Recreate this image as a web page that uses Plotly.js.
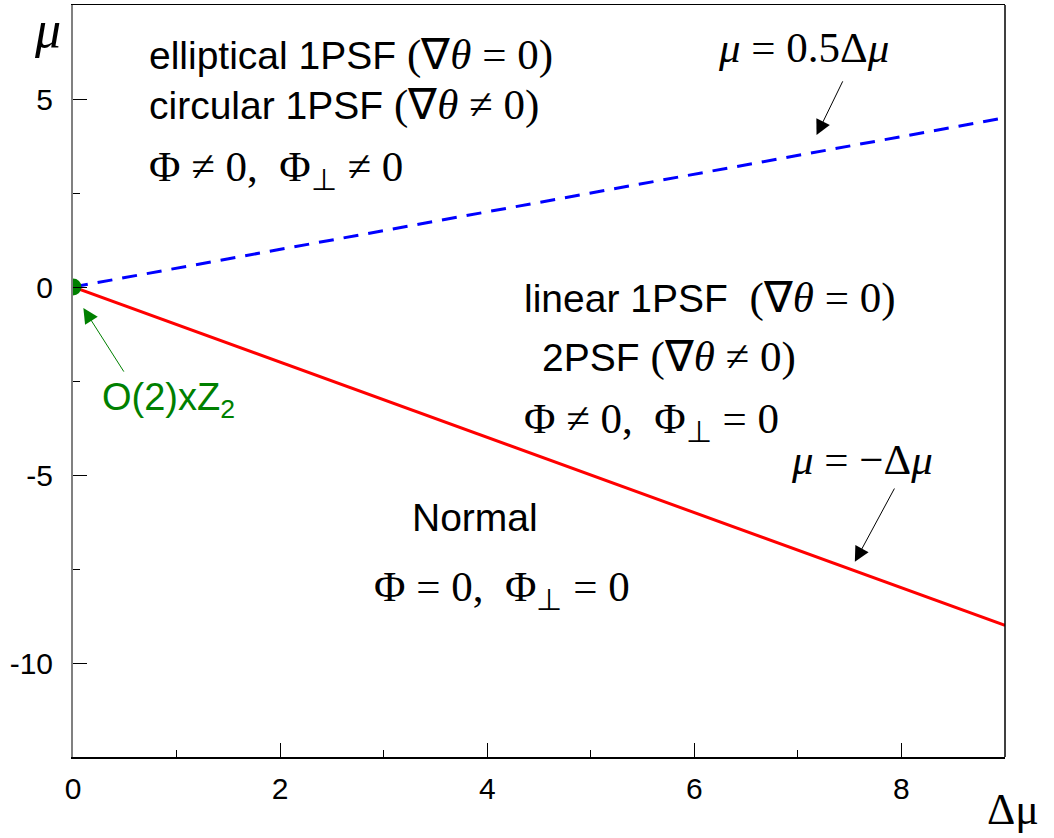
<!DOCTYPE html>
<html>
<head>
<meta charset="utf-8">
<script src="https://cdn.plot.ly/plotly-3.0.1.min.js"></script>
<style>
  html, body { margin: 0; padding: 0; background: #ffffff; }
  #chart { width: 1054px; height: 838px; }
</style>
</head>
<body>
<div id="chart"></div>
<script>
// Phase boundaries in the (Δμ, μ) plane
const deltaMu = [0, 9];
const muHalf = [0, 4.5];      // μ = 0.5Δμ
const muMinus = [0, -9];      // μ = −Δμ
const pointX = [0];           // O(2)xZ2 point
const pointY = [0];

const xTickVals = [0, 2, 4, 6, 8];
const xMinorVals = [1, 3, 5, 7];
const yTickVals = [-10, -5, 0, 5];
const yTickText = ['-10', '-5', '0', '5'];
const yMinorVals = [-7.5, -2.5, 2.5];

const SANS = 'Liberation Sans, Arial, sans-serif';
const SERIF = 'Liberation Serif, Times New Roman, serif';
// no quotes inside: plotly parses the style attribute itself
const math = s => `<span style="font-family:${SERIF};font-size:43px">${s}</span>`;

// plain text labels, in data coordinates
function label(x, y, text, opts = {}) {
    return Object.assign({
        x: x, y: y, xref: 'x', yref: 'y', text: text, showarrow: false,
        xanchor: 'left', yanchor: 'middle',
        font: { family: SANS, size: 39, color: '#000000' },
    }, opts);
}

// arrow only, tail -> head in data coordinates
function arrow(tx, ty, hx, hy, color) {
    return {
        x: hx, y: hy, ax: tx, ay: ty, xref: 'x', yref: 'y', axref: 'x', ayref: 'y',
        text: '', showarrow: true, arrowhead: 2, arrowsize: 3, arrowwidth: 1,
        arrowcolor: color, standoff: 0, startstandoff: 0,
    };
}

const annotations = [
    label(0.715, 6.17, 'elliptical 1PSF ' + math('(∇<i>θ</i> = 0)')),
    label(0.715, 4.84, 'circular 1PSF ' + math('(∇<i>θ</i> ≠ 0)')),
    label(0.715, 3.11, math('Φ ≠ 0,  Φ<sub>⊥</sub> ≠ 0')),
    label(4.34, -0.29, 'linear 1PSF  ' + math('(∇<i>θ</i> = 0)')),
    label(4.51, -1.86, '2PSF ' + math('(∇<i>θ</i> ≠ 0)')),
    label(4.34, -3.59, math('Φ ≠ 0,  Φ<sub>⊥</sub> = 0')),
    label(3.25, -6.14, 'Normal'),
    label(2.89, -8.06, math('Φ = 0,  Φ<sub>⊥</sub> = 0')),
    label(7.62, -4.60, math('<i>μ</i> = −Δ<i>μ</i>'), { xanchor: 'center' }),
    label(7.05, 6.38, math('<i>μ</i> = 0.5Δ<i>μ</i>'), { xanchor: 'center' }),
    label(0.26, -3.0, 'O(2)xZ<sub>2</sub>', { font: { family: SANS, size: 38, color: '#008000' } }),
    arrow(7.94, -5.32, 7.55, -7.31, '#000000'),
    arrow(7.44, 5.51, 7.18, 4.04, '#000000'),
    arrow(0.50, -2.29, 0.10, -0.56, '#008000'),
    // axis titles
    {
        x: -0.027, y: 0.967, xref: 'paper', yref: 'paper', showarrow: false,
        text: '<i>μ</i>', xanchor: 'center', yanchor: 'middle',
        font: { family: SERIF, size: 52, color: '#000000' },
    },
    {
        x: 1.009, y: -0.07, xref: 'paper', yref: 'paper', showarrow: false,
        text: 'Δμ', xanchor: 'center', yanchor: 'middle',
        font: { family: SERIF, size: 44, color: '#000000' },
    },
];

const traces = [
    {
        x: deltaMu, y: muHalf, type: 'scatter', mode: 'lines',
        line: { color: '#0000ff', width: 3, dash: '15px,10px' },
        hoverinfo: 'skip',
    },
    {
        x: deltaMu, y: muMinus, type: 'scatter', mode: 'lines',
        line: { color: '#ff0000', width: 3 },
        hoverinfo: 'skip',
    },
    {
        x: pointX, y: pointY, type: 'scatter', mode: 'markers',
        marker: { color: '#008000', size: 17 },
        hoverinfo: 'skip',
    },
];

const layout = {
    width: 1054,
    height: 838,
    showlegend: false,
    margin: { l: 73, r: 49, t: 5, b: 81 },
    paper_bgcolor: '#ffffff',
    plot_bgcolor: '#ffffff',
    font: { family: SANS, color: '#000000' },
    xaxis: {
        range: [0, 9],
        tickvals: xTickVals,
        ticks: 'inside',
        ticklen: 14,
        tickwidth: 1,
        tickcolor: '#000000',
        tickfont: { family: SANS, size: 30, color: '#000000' },
        ticklabelstandoff: 4,
        minor: { tickvals: xMinorVals, ticks: 'inside', ticklen: 7, tickwidth: 1, tickcolor: '#000000', showgrid: false },
        showline: true,
        linecolor: '#000000',
        linewidth: 1.5,
        mirror: true,
        showgrid: false,
        zeroline: false,
    },
    yaxis: {
        range: [-12.5, 7.5],
        tickvals: yTickVals,
        ticktext: yTickText,
        ticks: 'inside',
        ticklen: 14,
        tickwidth: 1,
        tickcolor: '#000000',
        tickfont: { family: SANS, size: 30, color: '#000000' },
        ticklabelstandoff: 12,
        minor: { tickvals: yMinorVals, ticks: 'inside', ticklen: 7, tickwidth: 1, tickcolor: '#000000', showgrid: false },
        showline: true,
        linecolor: '#808080',
        linewidth: 2,
        showgrid: false,
        zeroline: false,
    },
    shapes: [
        // right frame edge
        { type: 'line', xref: 'paper', yref: 'paper', x0: 1, x1: 1, y0: 0, y1: 1, line: { color: '#000000', width: 1.5 } },
    ],
    annotations: annotations,
};

Plotly.newPlot('chart', traces, layout, { displayModeBar: false, staticPlot: true });
</script>
</body>
</html>
